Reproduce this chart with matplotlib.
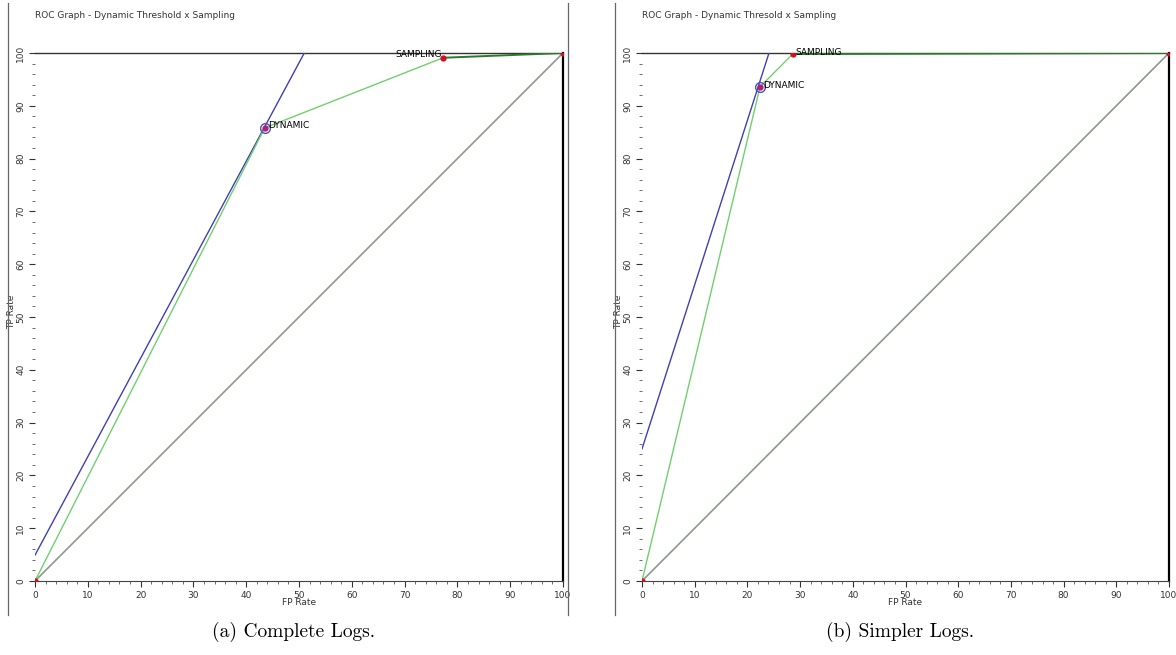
import matplotlib
matplotlib.use("Agg")
import matplotlib.pyplot as plt
from matplotlib.lines import Line2D
from matplotlib.ticker import MultipleLocator

# ---- data ----
titles = ["ROC Graph - Dynamic Threshold x Sampling", "ROC Graph - Dynamic Thresold x Sampling"]
captions = ["(a) Complete Logs.", "(b) Simpler Logs."]
# ROC curve points (FP rate, TP rate): origin, DYNAMIC, SAMPLING, end
roc_fp = [[0, 43.5, 77.3, 100], [0, 22.4, 28.6, 100]]
roc_tp = [[0, 85.8, 99.1, 100], [0, 93.6, 99.8, 100]]
# iso-performance (blue) line: start and end
iso_fp = [[0, 51.0], [0, 24.1]]
iso_tp = [[4.9, 100], [25.0, 100]]
diag = [0, 100]
ticks = [0, 10, 20, 30, 40, 50, 60, 70, 80, 90, 100]

fig = plt.figure(figsize=(11.76, 6.55), dpi=100)
W, H = 1176, 655

axes_px = [(35, 563), (642, 1169)]
ylabel_px = [16, 623]
y0px, y1px = 581, 53

for i in range(2):
    xl, xr = axes_px[i]
    ax = fig.add_axes([xl / W, 1 - y0px / H, (xr - xl) / W, (y0px - y1px) / H])
    ax.set_xlim(0, 100)
    ax.set_ylim(0, 100)
    ax.plot(diag, diag, color="#8a9a8a", lw=1.2, zorder=2)
    ax.plot(iso_fp[i], iso_tp[i], color="#4040b0", lw=1.0, zorder=3)
    ax.plot(roc_fp[i][:2], roc_tp[i][:2], color="#70d070", lw=1.0, zorder=3)
    ax.plot(roc_fp[i][1:3], roc_tp[i][1:3], color="#70d070", lw=1.0, zorder=3)
    ax.plot(roc_fp[i][2:], roc_tp[i][2:], color="#2a7a2a", lw=1.4, zorder=3)
    ax.plot([roc_fp[i][0], roc_fp[i][2], roc_fp[i][3]],
            [roc_tp[i][0], roc_tp[i][2], roc_tp[i][3]],
            ls="none", marker="o", ms=3.5, color="#d01020", zorder=5)
    ax.plot([roc_fp[i][1]], [roc_tp[i][1]], ls="none", marker="o", ms=3.5,
            color="#b02070", zorder=5)
    ax.plot([roc_fp[i][1]], [roc_tp[i][1]], ls="none", marker="o", ms=7,
            mfc="none", mec="#5050c0", mew=1.0, zorder=6)
    if i == 0:
        ax.text(roc_fp[i][1] + 0.6, roc_tp[i][1] - 0.3, "DYNAMIC", fontsize=6.5, va="bottom", ha="left", zorder=6)
        ax.text(roc_fp[i][2] - 0.3, roc_tp[i][2] - 0.2, "SAMPLING", fontsize=6.5, va="bottom", ha="right", zorder=6)
    else:
        ax.text(roc_fp[i][1] + 0.6, roc_tp[i][1] - 0.6, "DYNAMIC", fontsize=6.5, va="bottom", ha="left", zorder=6)
        ax.text(roc_fp[i][2] + 0.5, roc_tp[i][2] - 0.6, "SAMPLING", fontsize=6.5, va="bottom", ha="left", zorder=6)

    ax.set_xticks(ticks)
    ax.set_yticks(ticks)
    ax.set_xticklabels([str(t) for t in ticks], fontsize=6.5, color="#333333")
    ax.set_yticklabels([str(t) for t in ticks], fontsize=6.5, color="#333333", rotation=90, va="center")
    ax.xaxis.set_minor_locator(MultipleLocator(2))
    ax.yaxis.set_minor_locator(MultipleLocator(2))
    ax.tick_params(which="major", length=4, width=0.8, color="#333333", pad=3)
    ax.tick_params(which="minor", length=2, width=0.6, color="#555555")
    ax.spines["top"].set_color("#333333")
    ax.spines["top"].set_linewidth(1.0)
    ax.spines["right"].set_color("black")
    ax.spines["right"].set_linewidth(1.6)
    ax.spines["bottom"].set_color("#444444")
    ax.spines["bottom"].set_linewidth(0.8)
    ax.spines["left"].set_visible(False)
    ax.set_xlabel("FP Rate", fontsize=6.5, color="#333333")
    ax.set_ylabel("TP Rate", fontsize=6.5, color="#333333")
    ax.xaxis.set_label_coords(0.5, -(598 - y0px) / (y0px - y1px), transform=ax.transAxes)
    ax.yaxis.set_label_coords((ylabel_px[i] - xl) / (xr - xl), 0.51, transform=ax.transAxes)
    ax.set_facecolor("white")

    # panel title and caption
    fig.text(xl / W, 1 - 15 / H, titles[i], fontsize=6.5, color="#333333", va="center", ha="left")
    fig.text((xl + xr) / 2 / W - 0.005, 1 - 632 / H, captions[i], fontsize=14, family="cmr10",
             va="center", ha="center")

# panel frame lines
for xp in (8, 568, 615):
    fig.add_artist(Line2D([xp / W, xp / W], [1 - 615 / H, 1 - 3 / H], color="#666666", lw=0.9))

fig.savefig("out.png", dpi=100)
